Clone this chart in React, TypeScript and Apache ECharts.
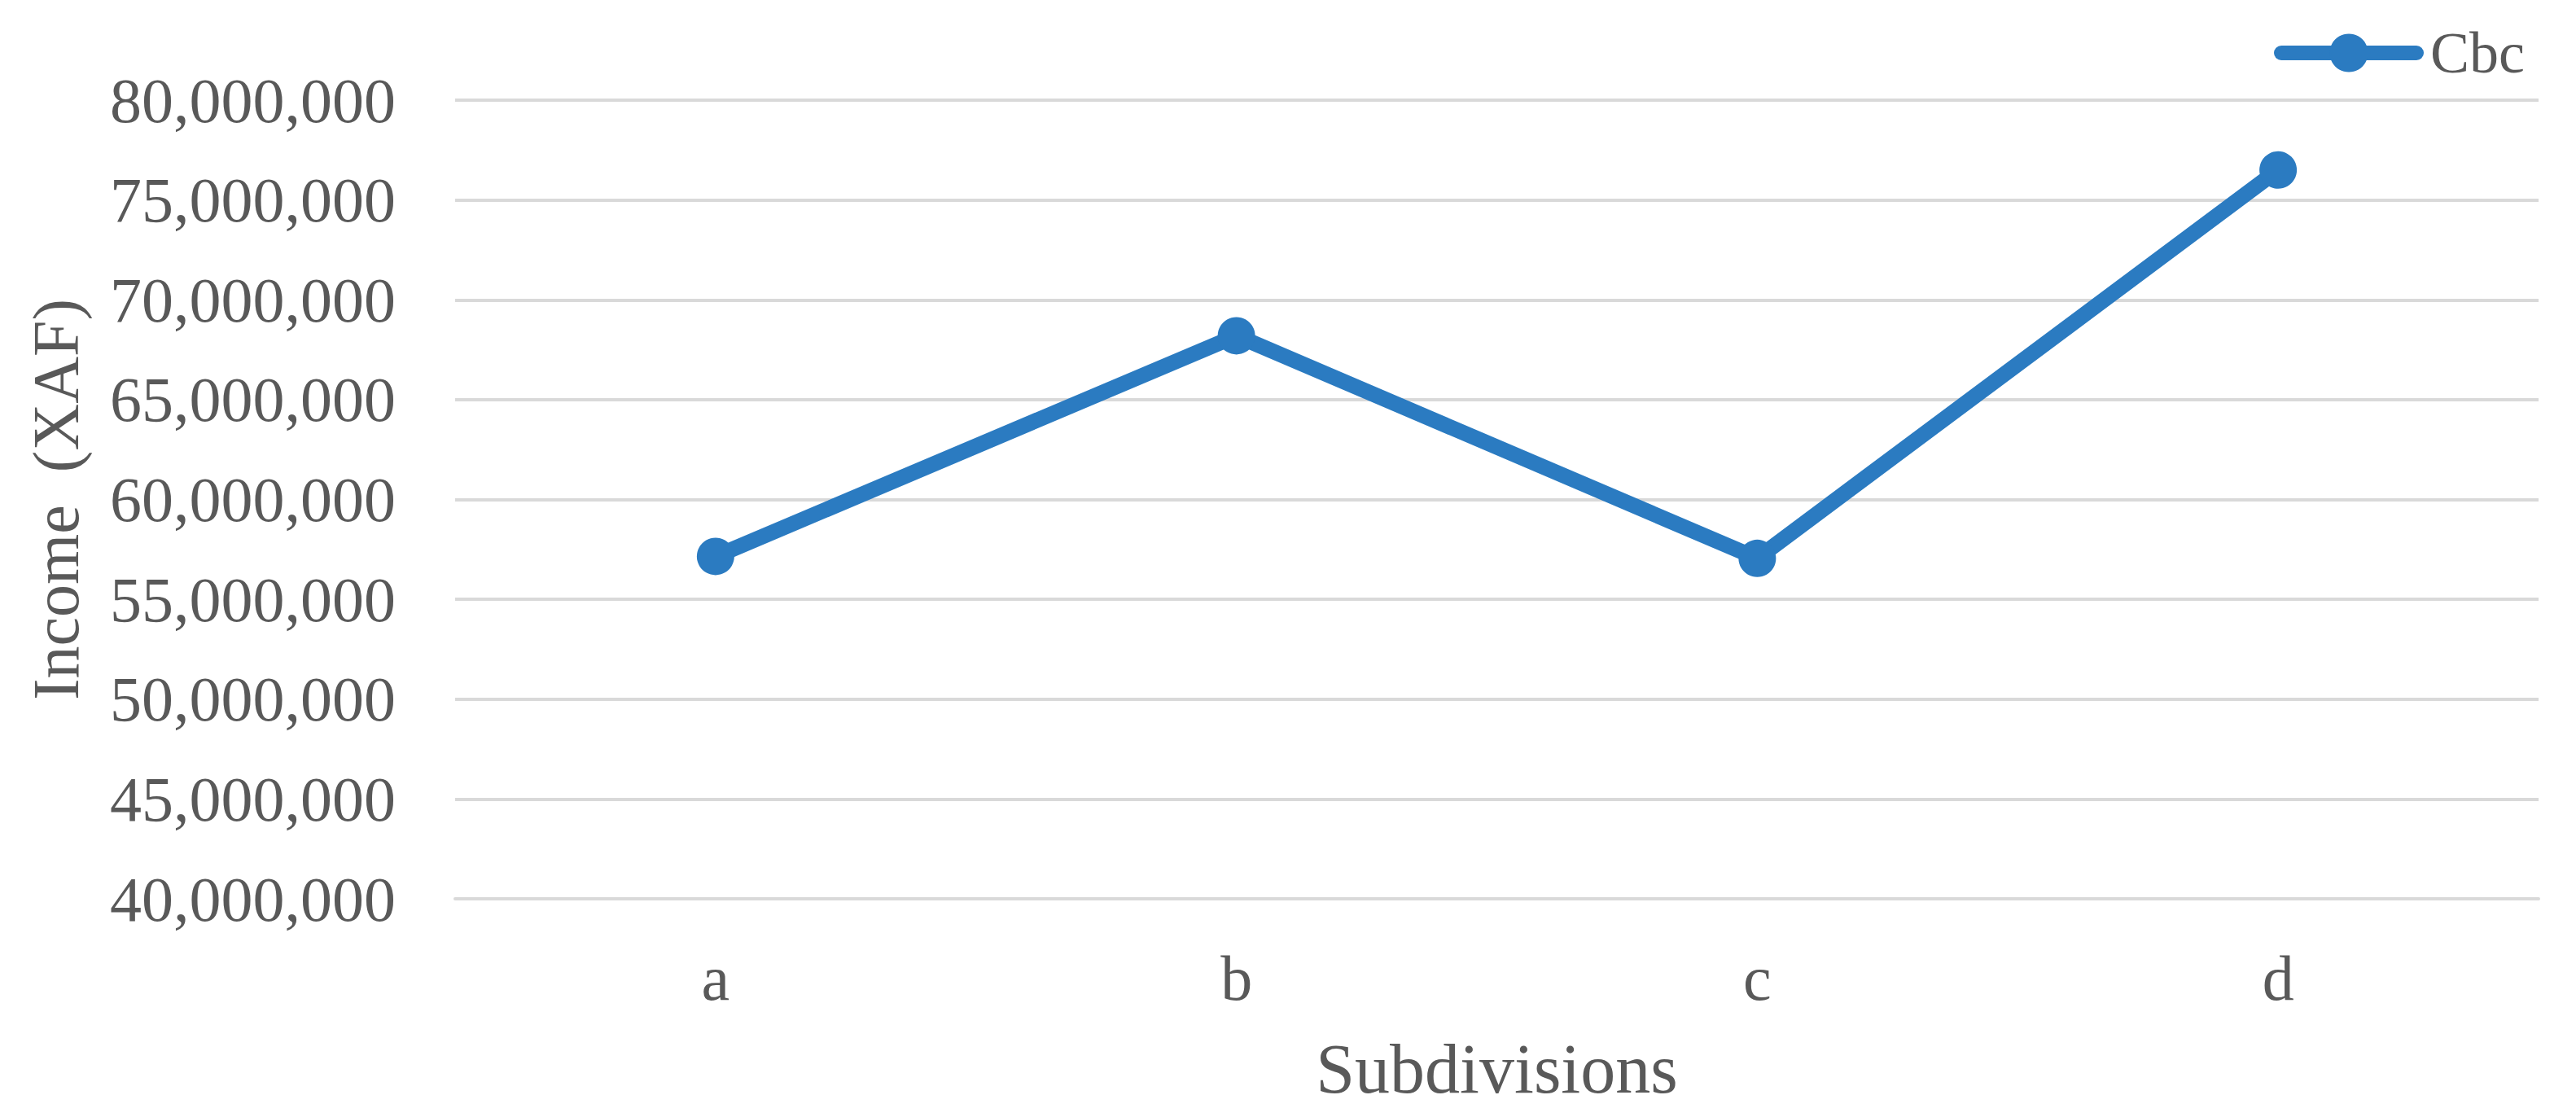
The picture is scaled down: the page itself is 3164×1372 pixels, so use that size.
import React, { useEffect, useRef } from "react";
import * as echarts from "echarts";

const categories = ["a", "b", "c", "d"];
const seriesName = "Cbc";
const cbcValues = [57150000, 68200000, 57050000, 76500000];
const yMin = 40000000;
const yMax = 80000000;
const yStep = 5000000;
const xAxisTitle = "Subdivisions";
const yAxisTitle = "Income  (XAF)";

const FONT = "Liberation Serif";
const TEXT = "#595959";
const BLUE = "#2b7bc1";

export default function App() {
  const ref = useRef<HTMLDivElement>(null);
  useEffect(() => {
    if (!ref.current) return;
    const chart = echarts.init(ref.current, null, { renderer: "svg" });
    chart.setOption({
      animation: false,
      backgroundColor: "#ffffff",
      grid: { left: 559, right: 46, top: 123, bottom: 268, containLabel: false },
      legend: {
        data: [seriesName],
        left: 2788,
        top: 24,
        itemWidth: 166,
        itemHeight: 59,
        itemGap: 10,
        lineStyle: { width: 18, color: BLUE, cap: "round" },
        textStyle: { fontFamily: FONT, fontSize: 72, color: TEXT, padding: [0, 0, 0, 12] },
      },
      xAxis: {
        type: "category",
        data: categories,
        boundaryGap: true,
        axisLine: { show: true, lineStyle: { color: "#d9d9d9", width: 4 } },
        axisTick: { show: false },
        axisLabel: { fontFamily: FONT, fontSize: 78, color: TEXT, margin: 58 },
        name: xAxisTitle,
        nameLocation: "middle",
        nameGap: 166,
        nameTextStyle: { fontFamily: FONT, fontSize: 86, color: TEXT },
      },
      yAxis: {
        type: "value",
        min: yMin,
        max: yMax,
        interval: yStep,
        axisLine: { show: false },
        axisTick: { show: false },
        splitLine: { lineStyle: { color: "#d9d9d9", width: 4 } },
        axisLabel: {
          fontFamily: FONT,
          fontSize: 78,
          color: TEXT,
          margin: 73,
          formatter: (v: number) => v.toLocaleString("en-US"),
        },
        name: yAxisTitle,
        nameLocation: "middle",
        nameRotate: 90,
        nameGap: 450,
        nameTextStyle: { fontFamily: FONT, fontSize: 80, color: TEXT },
      },
      series: [
        {
          name: seriesName,
          type: "line",
          data: cbcValues,
          symbol: "circle",
          symbolSize: 46,
          lineStyle: { color: BLUE, width: 19, cap: "round", join: "round" },
          itemStyle: { color: BLUE },
        },
      ],
    });
    return () => chart.dispose();
  }, []);
  return (
    <div
      ref={ref}
      style={{ position: "fixed", left: 0, top: 0, width: 3164, height: 1372 }}
    />
  );
}
